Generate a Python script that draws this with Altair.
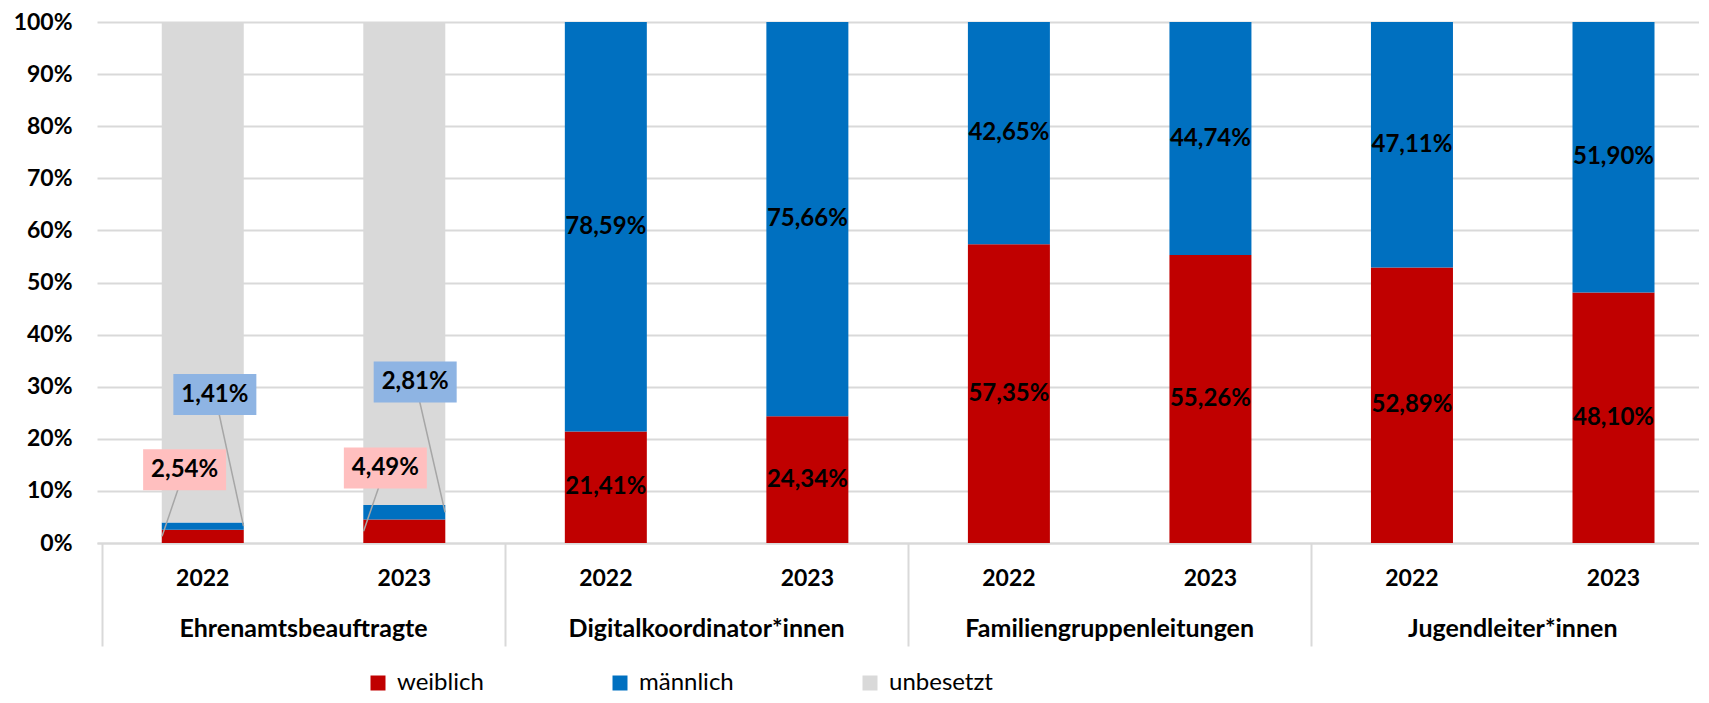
import altair as alt
import pandas as pd

# ---------------- data ----------------
categories = ["Ehrenamtsbeauftragte", "Digitalkoordinator*innen",
              "Familiengruppenleitungen", "Jugendleiter*innen"]
years = ["2022", "2023"]
series = ["weiblich", "männlich", "unbesetzt"]
weiblich = [2.54, 4.49, 21.41, 24.34, 57.35, 55.26, 52.89, 48.10]
maennlich = [1.41, 2.81, 78.59, 75.66, 42.65, 44.74, 47.11, 51.90]
unbesetzt = [96.05, 92.70, 0, 0, 0, 0, 0, 0]
colors = ["#C00000", "#0070C0", "#D9D9D9"]

# callouts (first group): bar index, series, label-box placement
callout_bar = [0, 0, 1, 1]
callout_series = ["weiblich", "männlich", "weiblich", "männlich"]
callout_box_dx = [-0.09, 0.06, -0.094, 0.054]   # in band units
callout_box_y = [14.05, 28.5, 14.4, 30.9]      # in percent
callout_side = [-1, 1, -1, 1]
callout_fill = ["#FFBFBF", "#8EB4E3", "#FFBFBF", "#8EB4E3"]

# ---------------- layout ----------------
W, H = 1602, 521
STEP = 202.8
XMAX = W / STEP
BAR = 82
FONT = "Lato"

def fmt(v):
    return f"{v:.2f}%".replace(".", ",")

rows = []
for i in range(len(weiblich)):
    base = 0.0
    for s, vals in zip(series, [weiblich, maennlich, unbesetzt]):
        v = vals[i]
        rows.append(dict(idx=i, pos=i + 0.5, kategorie=categories[i // 2],
                         jahr=years[i % 2], serie=s, wert=v, y0=base,
                         y1=base + v, ymid=base + v / 2, label=fmt(v)))
        base += v
df = pd.DataFrame(rows)

lab_df = df[(df.kategorie != categories[0]) & (df.serie != "unbesetzt") & (df.wert > 0)]

half = (BAR / 2) / STEP
crow = []
for b, s, dx, by, side, fill in zip(callout_bar, callout_series, callout_box_dx,
                                    callout_box_y, callout_side, callout_fill):
    r = df[(df.idx == b) & (df.serie == s)].iloc[0]
    crow.append(dict(box_x=r.pos + dx, box_y=by, end_x=r.pos + side * half,
                     end_y=r.ymid, fill=fill, label=r.label))
cdf = pd.DataFrame(crow)

year_df = pd.DataFrame([dict(pos=i + 0.5, jahr=years[i % 2]) for i in range(len(weiblich))])
cat_df = pd.DataFrame([dict(pos=2 * g + 1, kategorie=c) for g, c in enumerate(categories)])

# ---------------- scales / axes ----------------
xscale = alt.Scale(domain=[0, XMAX], nice=False, zero=False)
yscale = alt.Scale(domain=[0, 100], nice=False)
xaxis = alt.Axis(values=[2 * g for g in range(len(categories))], labels=False,
                 tickSize=103, tickColor="#D9D9D9", tickWidth=2,
                 domainColor="#D9D9D9", domainWidth=2, grid=False, title=None)
yaxis = alt.Axis(values=list(range(0, 101, 10)), labelExpr="datum.value + '%'",
                 labelFont=FONT, labelFontSize=23, labelFontWeight="bold",
                 labelColor="black", labelPadding=25, ticks=False, tickSize=0,
                 domain=False, grid=True, gridColor="#D9D9D9", gridWidth=2,
                 title=None)

bars = alt.Chart(df).mark_bar(size=BAR).encode(
    x=alt.X("pos:Q", scale=xscale, axis=xaxis),
    y=alt.Y("y1:Q", scale=yscale, axis=yaxis),
    y2="y0:Q",
    color=alt.Color("serie:N", scale=alt.Scale(domain=series, range=colors),
                    legend=alt.Legend(orient="none", legendX=269, legendY=649,
                                      direction="horizontal", title=None,
                                      symbolType="square", symbolSize=225,
                                      symbolStrokeWidth=0, labelFont=FONT,
                                      labelFontSize=24, labelColor="black",
                                      columnPadding=124, labelOffset=7,
                                      padding=0)),
)

labels = alt.Chart(lab_df).mark_text(font=FONT, fontSize=24, fontWeight="bold",
                                     color="black", baseline="middle").encode(
    x=alt.X("pos:Q", scale=xscale, axis=xaxis),
    y=alt.Y("ymid:Q", scale=yscale, axis=yaxis),
    text="label:N",
)

rules = alt.Chart(cdf).mark_rule(color="#A6A6A6", strokeWidth=1.5).encode(
    x=alt.X("box_x:Q", scale=xscale, axis=xaxis),
    y=alt.Y("box_y:Q", scale=yscale, axis=yaxis),
    x2="end_x:Q", y2="end_y:Q",
)

boxes = alt.Chart(cdf).mark_rect(width=83, height=41).encode(
    x=alt.X("box_x:Q", scale=xscale, axis=xaxis),
    y=alt.Y("box_y:Q", scale=yscale, axis=yaxis),
    color=alt.Color("fill:N", scale=None),
)

ctext = alt.Chart(cdf).mark_text(font=FONT, fontSize=24, fontWeight="bold",
                                 color="black", baseline="middle").encode(
    x=alt.X("box_x:Q", scale=xscale, axis=xaxis),
    y=alt.Y("box_y:Q", scale=yscale, axis=yaxis),
    text="label:N",
)

yl = alt.Chart(year_df).mark_text(font=FONT, fontSize=23, fontWeight="bold",
                                  color="black", baseline="alphabetic").encode(
    x=alt.X("pos:Q", scale=xscale, axis=xaxis),
    y=alt.value(H + 43),
    text="jahr:N",
)

cl = alt.Chart(cat_df).mark_text(font=FONT, fontSize=25, fontWeight="bold",
                                 color="black", baseline="alphabetic").encode(
    x=alt.X("pos:Q", scale=xscale, axis=xaxis),
    y=alt.value(H + 94),
    text="kategorie:N",
)

chart = alt.layer(bars, labels, rules, boxes, ctext, yl, cl).properties(
    width=W, height=H,
    autosize=alt.AutoSizeParams(type="none"),
    padding={"left": 89, "top": 14, "right": 0, "bottom": 152},
    background="white",
).configure_view(stroke=None)

chart.save("out.html", embed_options={"renderer": "svg", "actions": False})
